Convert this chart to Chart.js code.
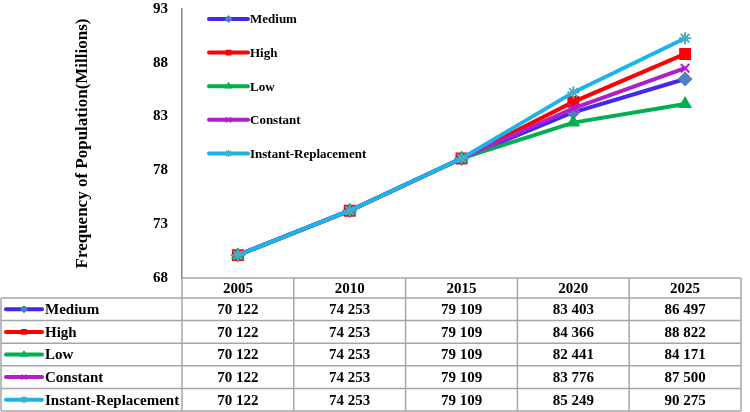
<!DOCTYPE html>
<html>
<head>
<meta charset="utf-8">
<script src="https://cdn.jsdelivr.net/npm/chart.js@4.4.0/dist/chart.umd.min.js"></script>
<style>
  html, body { margin: 0; padding: 0; background: #ffffff; }
  #wrap { width: 750px; height: 412px; }
</style>
</head>
<body>
<div id="wrap"><canvas id="pop-chart" width="750" height="412"></canvas></div>
<script>
/* --- data (population in thousands) --- */
var years = ["2005", "2010", "2015", "2020", "2025"];
var seriesNames = ["Medium", "High", "Low", "Constant", "Instant-Replacement"];
var medium   = [70122, 74253, 79109, 83403, 86497];
var high     = [70122, 74253, 79109, 84366, 88822];
var low      = [70122, 74253, 79109, 82441, 84171];
var constant = [70122, 74253, 79109, 83776, 87500];
var instant  = [70122, 74253, 79109, 85249, 90275];
var yTicks   = [68, 73, 78, 83, 88, 93];

var serif = "'Liberation Serif', 'Times New Roman', serif";

function toMillions(arr) {
  return arr.map(function (v) { return v / 1000; });
}

function fmt(v) {
  var s = String(v);
  return s.slice(0, s.length - 3) + " " + s.slice(s.length - 3);
}

var styles = [
  { line: "#4028ee", point: "#4f81bd", shape: "rectRot",  r: 6 },
  { line: "#ff0000", point: "#ff0000", shape: "rect",     r: 7 },
  { line: "#00b050", point: "#00b050", shape: "triangle", r: 6 },
  { line: "#b01ec8", point: "#b01ec8", shape: "crossRot", r: 6 },
  { line: "#1eb2ea", point: "#4bacc6", shape: "star",     r: 6 }
];
var rawSeries = [medium, high, low, constant, instant];

var datasets = rawSeries.map(function (arr, i) {
  var st = styles[i];
  return {
    label: seriesNames[i],
    data: toMillions(arr),
    raw: arr,
    borderColor: st.line,
    borderWidth: 4,
    pointStyle: st.shape,
    pointRadius: st.r,
    pointBackgroundColor: st.point,
    pointBorderColor: st.point,
    pointBorderWidth: 2,
    tension: 0,
    fill: false,
    order: 5 - i
  };
});

/* draws a small line + marker key */
function drawKey(ctx, st, x1, x2, y) {
  ctx.save();
  ctx.strokeStyle = st.line;
  ctx.lineWidth = 4;
  ctx.lineCap = "round";
  ctx.beginPath();
  ctx.moveTo(x1, y);
  ctx.lineTo(x2, y);
  ctx.stroke();
  ctx.fillStyle = st.point;
  ctx.strokeStyle = st.point;
  ctx.lineWidth = 1.5;
  Chart.helpers.drawPoint(ctx, { pointStyle: st.shape, radius: 3, rotation: 0, borderWidth: 1.5 }, (x1 + x2) / 2, y);
  ctx.restore();
}

/* legend inside the plot + data table under it */
var tablePlugin = {
  id: "dataTable",
  afterDraw: function (chart) {
    var ctx = chart.ctx;
    var area = chart.chartArea;
    var xs = chart.scales.x;
    var colW = (area.right - area.left) / years.length;

    // legend
    ctx.save();
    ctx.font = "bold 13px " + serif;
    ctx.fillStyle = "#000";
    ctx.textBaseline = "middle";
    for (var i = 0; i < seriesNames.length; i++) {
      var ly = 19 + i * 33.6;
      drawKey(ctx, styles[i], area.left + 27, area.left + 66, ly);
      ctx.fillText(seriesNames[i], area.left + 68, ly + 1);
    }
    ctx.restore();

    // table
    var top = area.bottom;
    var headH = 20;
    var rowH = 22.6;
    var bottom = top + headH + rowH * seriesNames.length;

    ctx.save();
    ctx.strokeStyle = "#a6a6a6";
    ctx.lineWidth = 1.5;
    ctx.beginPath();
    ctx.moveTo(area.left, top); ctx.lineTo(area.right, top);
    for (var r = 0; r <= seriesNames.length; r++) {
      var yy = top + headH + r * rowH;
      ctx.moveTo(1, yy); ctx.lineTo(area.right, yy);
    }
    ctx.moveTo(1, top + headH); ctx.lineTo(1, bottom);
    for (var c = 0; c <= years.length; c++) {
      var xx = area.left + c * colW;
      ctx.moveTo(xx, top); ctx.lineTo(xx, bottom);
    }
    ctx.stroke();

    ctx.fillStyle = "#000";
    ctx.textBaseline = "middle";
    ctx.font = "bold 15px " + serif;
    ctx.textAlign = "center";
    years.forEach(function (yr, j) {
      ctx.fillText(yr, xs.getPixelForValue(j), top + headH / 2 + 1);
    });
    chart.data.datasets.forEach(function (ds, i) {
      var cy = top + headH + i * rowH + rowH / 2 + 1;
      ctx.textAlign = "left";
      drawKey(ctx, styles[i], 6, 42, cy - 1);
      ctx.fillText(ds.label, 45, cy);
      ctx.textAlign = "center";
      ds.raw.forEach(function (v, j) {
        ctx.fillText(fmt(v), xs.getPixelForValue(j), cy);
      });
    });
    ctx.restore();
  }
};

var ctx = document.getElementById("pop-chart").getContext("2d");
new Chart(ctx, {
  type: "line",
  data: { labels: years, datasets: datasets },
  options: {
    responsive: false,
    animation: false,
    layout: { padding: { left: 0, top: 5, right: 1, bottom: 134 } },
    plugins: { legend: { display: false }, tooltip: { enabled: false } },
    scales: {
      x: { display: false, offset: true },
      y: {
        min: 68,
        max: 93,
        afterBuildTicks: function (scale) {
          scale.ticks = yTicks.map(function (v) { return { value: v }; });
        },
        afterFit: function (scale) {
          scale.width = 182;
          scale.paddingTop = 0;
          scale.paddingBottom = 0;
        },
        grid: { display: false, drawTicks: false },
        border: { display: true, color: "#868686", width: 1.5 },
        ticks: {
          color: "#000",
          padding: 14,
          font: { family: serif, size: 15, weight: "bold" }
        },
        title: {
          display: true,
          text: "Frequency of Population(Millions)",
          color: "#000",
          padding: { top: 72, bottom: 0 },
          font: { family: serif, size: 17, weight: "bold" }
        }
      }
    }
  },
  plugins: [tablePlugin]
});
</script>
</body>
</html>
